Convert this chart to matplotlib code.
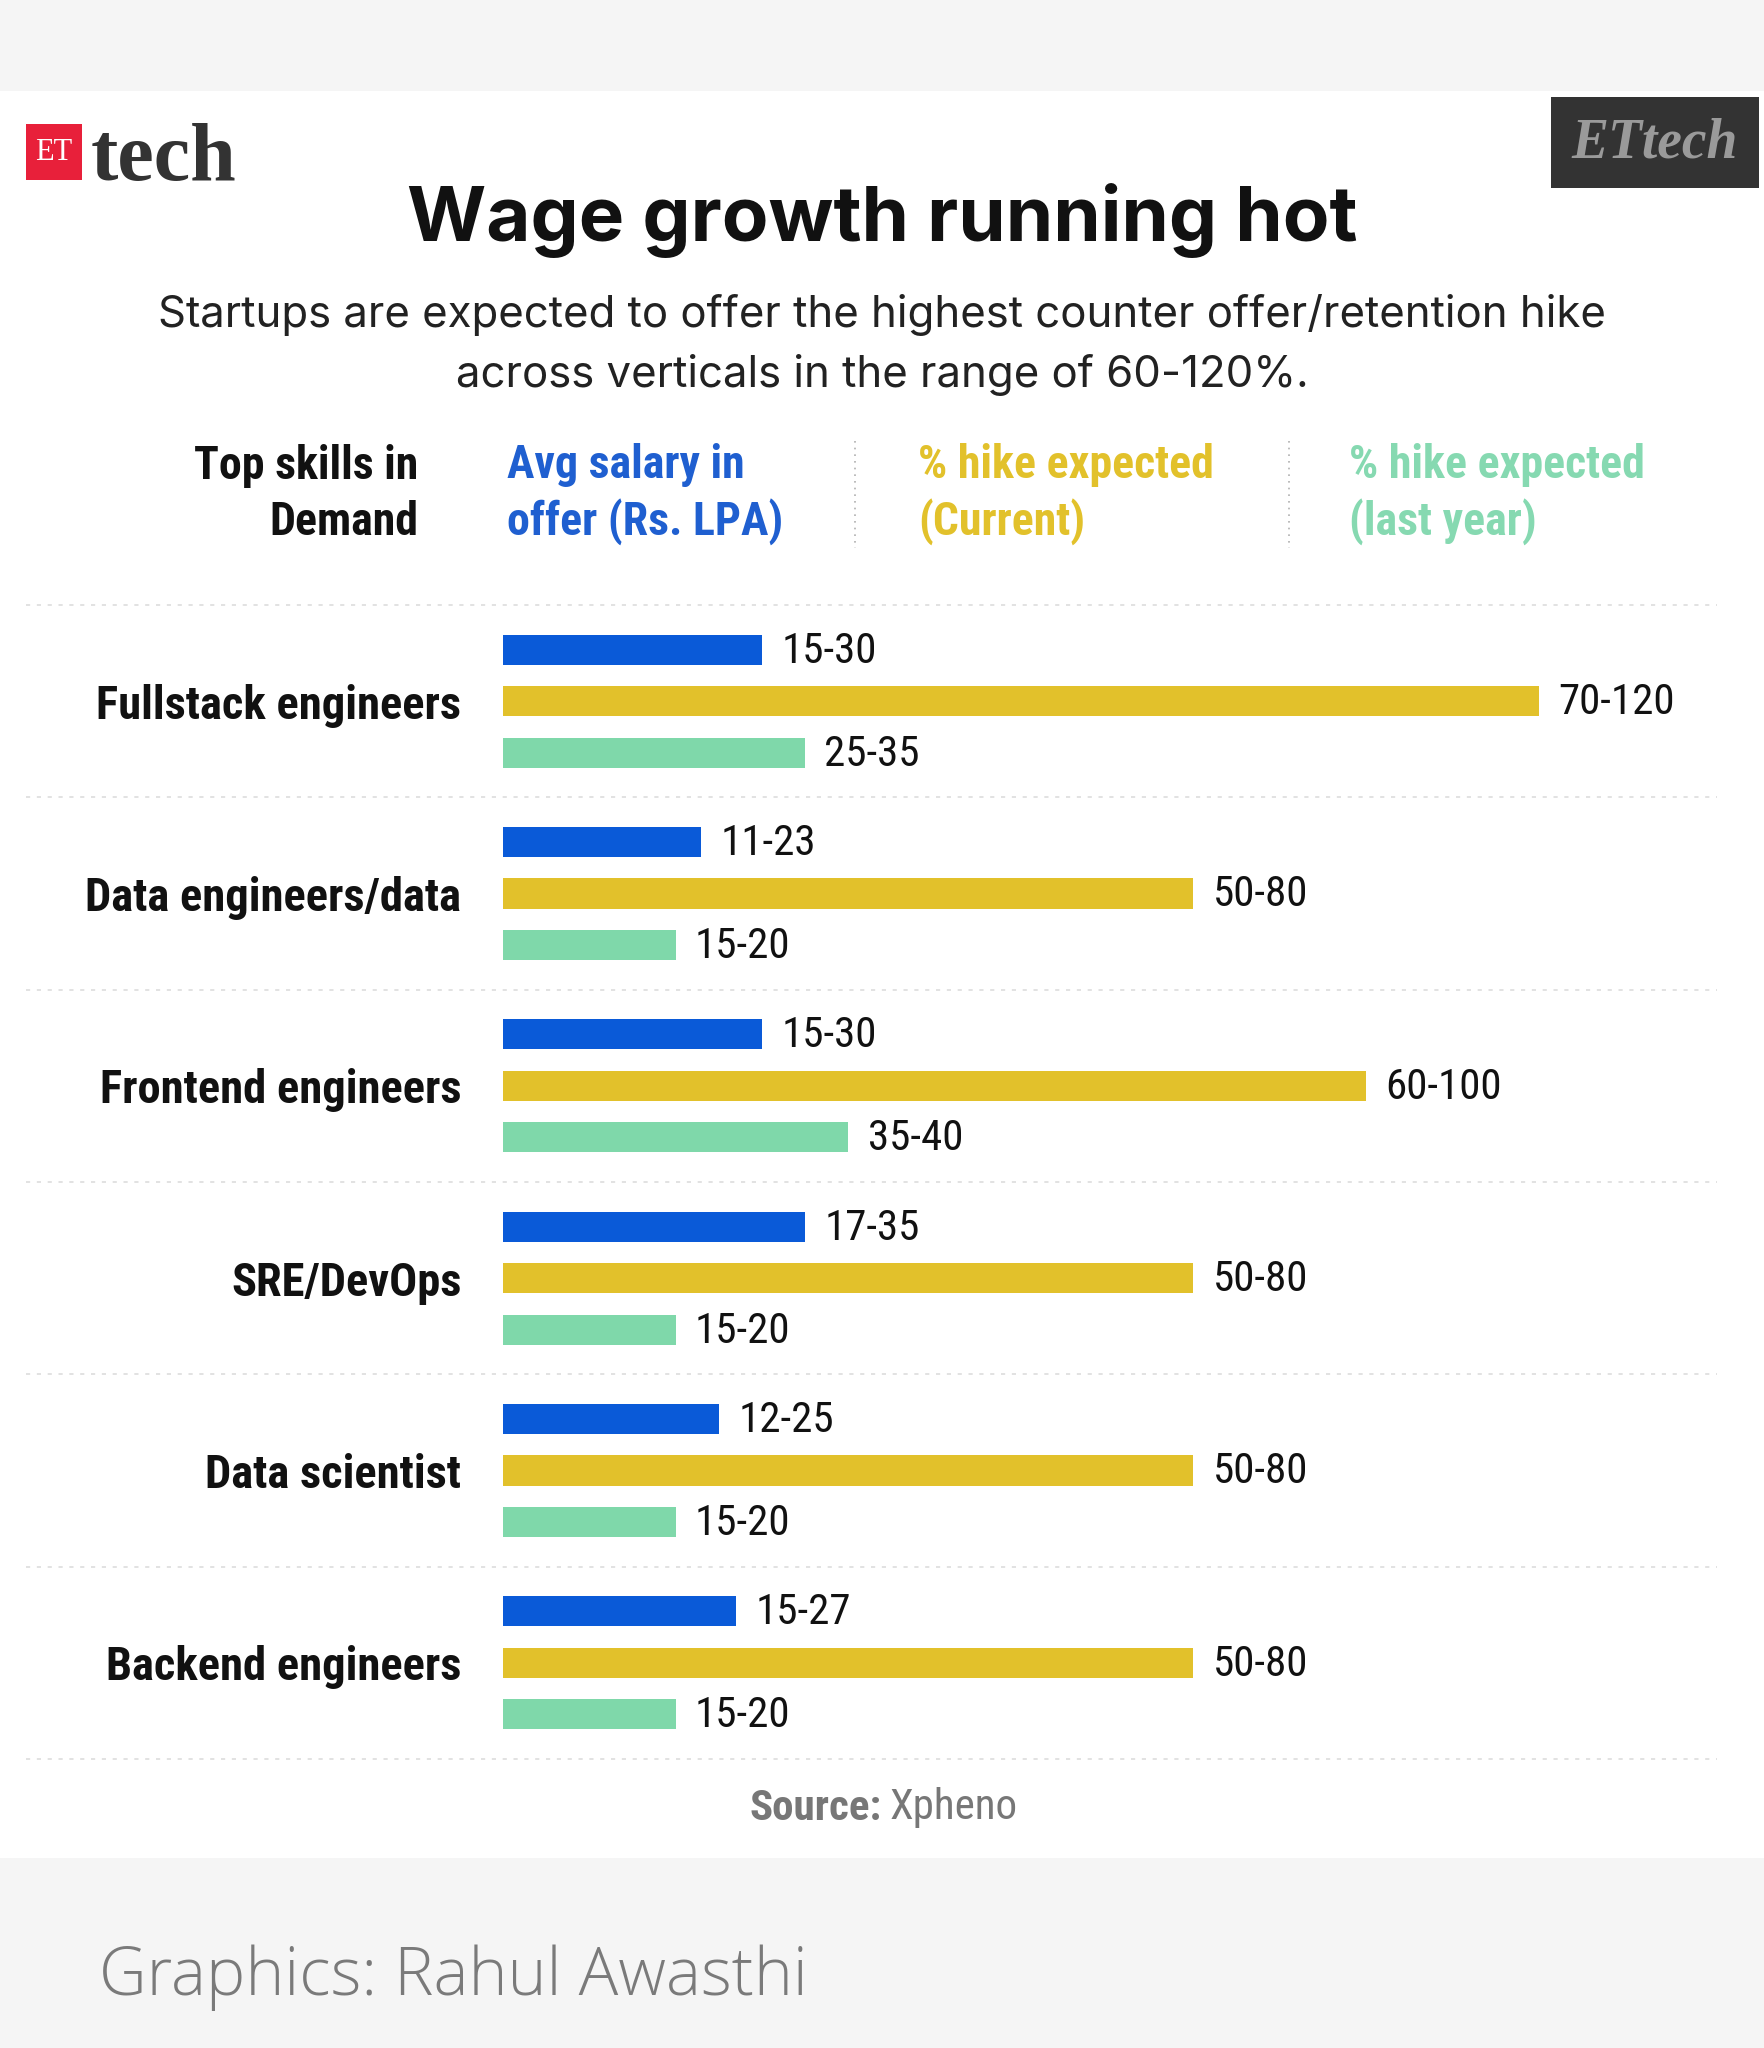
import matplotlib.pyplot as plt
from matplotlib import font_manager
from matplotlib.patches import Rectangle
from matplotlib.lines import Line2D

W, H = 1764, 2048

skills = ["Fullstack engineers", "Data engineers/data", "Frontend engineers",
          "SRE/DevOps", "Data scientist", "Backend engineers"]
salary_lo = [15, 11, 15, 17, 12, 15]
salary_hi = [30, 23, 30, 35, 25, 27]
hike_now_lo = [70, 50, 60, 50, 50, 50]
hike_now_hi = [120, 80, 100, 80, 80, 80]
hike_last_lo = [25, 15, 35, 15, 15, 15]
hike_last_hi = [35, 20, 40, 20, 20, 20]

blue, yellow, green = '#0a5ad8', '#e2c12b', '#7fd8aa'

names = {f.name for f in font_manager.fontManager.ttflist}
cond_list = [n for n in ['Liberation Sans Narrow', 'Roboto Condensed', 'Open Sans Condensed',
                         'DejaVu Sans Condensed'] if n in names]
cond = cond_list[0] if cond_list else 'Roboto'
geo = 'Inter' if 'Inter' in names else 'DejaVu Sans'


def fx(x):
    return x / W


def fy(y):
    return 1 - y / H


fig = plt.figure(figsize=(W / 100, H / 100), dpi=100, facecolor='#f5f5f5')
# white card
fig.patches.append(Rectangle((0, fy(1858)), 1, (1858 - 91) / H, transform=fig.transFigure,
                             facecolor='white', edgecolor='none', zorder=-5))

# ET tech logo
fig.patches.append(Rectangle((fx(26), fy(180)), 56 / W, 56 / H, transform=fig.transFigure,
                             facecolor='#e8203a', edgecolor='none'))
fig.text(fx(54), fy(153), 'ET', color='white', fontsize=22, family='Liberation Serif',
         ha='center', va='center')
fig.text(fx(91), fy(180), 'tech', color='#333333', fontsize=59, family='Liberation Serif',
         weight='bold', ha='left', va='baseline')

# ETtech box
fig.patches.append(Rectangle((fx(1551), fy(188)), 208 / W, 91 / H, transform=fig.transFigure,
                             facecolor='#333333', edgecolor='none'))
fig.text(fx(1655), fy(143), 'ETtech', color='#9a9a9a', fontsize=40, family='Liberation Serif',
         weight='bold', style='italic', ha='center', va='center')

# title and subtitle
fig.text(0.5, fy(220), 'Wage growth running hot', fontsize=55, weight='bold', family=geo,
         ha='center', va='center', color='#111111')
fig.text(0.5, fy(345), 'Startups are expected to offer the highest counter offer/retention hike\n'
         'across verticals in the range of 60-120%.', fontsize=31.5, family=geo,
         ha='center', va='center', color='#222222', linespacing=1.55)

# column headers
hdr = dict(fontsize=33, family=cond, weight='bold', va='center', linespacing=1.32)
fig.text(fx(418), fy(494), 'Top skills in\nDemand', ha='right', color='#111111', multialignment='right', **hdr)
fig.text(fx(507), fy(494), 'Avg salary in\noffer (Rs. LPA)', ha='left', color='#1f5fd0', **hdr)
fig.text(fx(918), fy(494), '% hike expected\n(Current)', ha='left', color='#e2c12b', **hdr)
fig.text(fx(1349), fy(494), '% hike expected\n(last year)', ha='left', color='#86d9b1', **hdr)
for xv in (855, 1289):
    fig.add_artist(Line2D([fx(xv), fx(xv)], [fy(441), fy(548)], transform=fig.transFigure,
                          color='#b0b0b0', linewidth=1.2, linestyle=(0, (1, 3))))

# bars
ax = fig.add_axes([fx(503), fy(1759), (1717 - 503) / W, (1759 - 605) / H])
ax.set_facecolor('none')
ax.set_xlim(0, 1214 / 8.63)
ax.set_ylim(5.5, -0.5)
pos = list(range(len(skills)))
off, bh = 0.268, 0.156
series = [(salary_lo, salary_hi, blue, -off), (hike_now_lo, hike_now_hi, yellow, 0),
          (hike_last_lo, hike_last_hi, green, off)]
for lo, hi, col, dy in series:
    ys = [p + dy for p in pos]
    ax.barh(ys, hi, height=bh, color=col)
    for y, a, b in zip(ys, lo, hi):
        ax.annotate(f'{a}-{b}', (b, y), xytext=(14, -1), textcoords='offset points',
                    va='center', ha='left', fontsize=31, family=cond, color='#111111')

for s in range(len(skills) + 1):
    ax.axhline(s - 0.5, xmin=(26 - 503) / 1214, xmax=1, clip_on=False, color='#dddddd',
               linewidth=1.2, dashes=(2.5, 4))

ax.set_yticks(pos)
ax.set_yticklabels(skills, fontsize=33.5, family=cond, weight='bold', color='#111111')
ax.tick_params(axis='y', length=0, pad=30)
ax.set_xticks([])
for sp in ax.spines.values():
    sp.set_visible(False)

# source and credit
fig.text(fx(882), fy(1808), 'Source:', ha='right', va='center', fontsize=31, family=cond,
         weight='bold', color='#777777')
fig.text(fx(890), fy(1808), 'Xpheno', ha='left', va='center', fontsize=31, family=cond,
         color='#777777')
fig.text(fx(99), fy(1978), 'Graphics: Rahul Awasthi', ha='left', va='center', fontsize=47.5,
         family='Open Sans', weight='light', color='#7a7a7a')

fig.savefig('out.png', dpi=100, facecolor=fig.get_facecolor())
